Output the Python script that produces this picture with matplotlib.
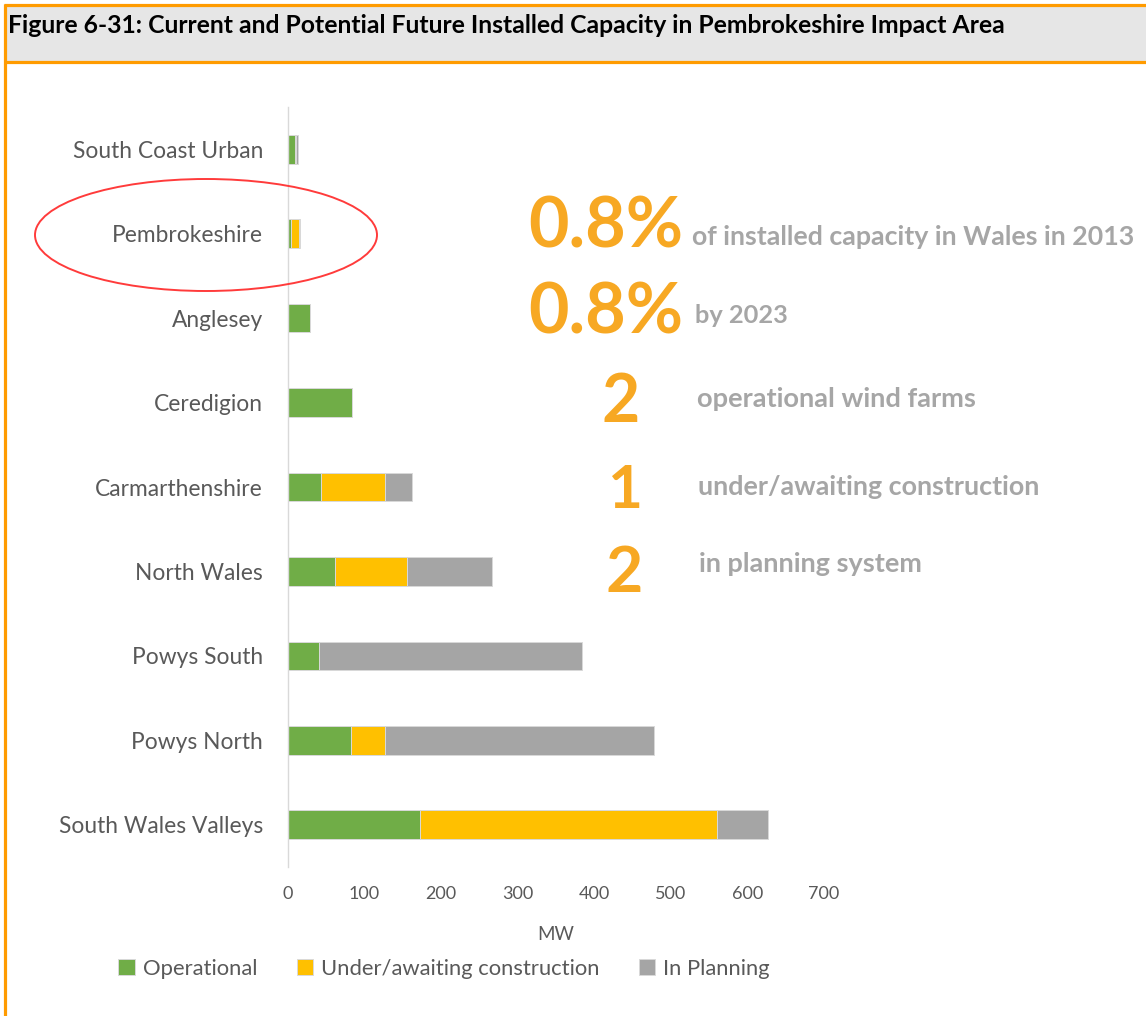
import matplotlib
matplotlib.use("Agg")
import matplotlib.pyplot as plt
from matplotlib.patches import Ellipse, Rectangle
from matplotlib.lines import Line2D

# Installed capacity (MW) by impact area
regions = ["South Coast Urban", "Pembrokeshire", "Anglesey", "Ceredigion",
           "Carmarthenshire", "North Wales", "Powys South", "Powys North",
           "South Wales Valleys"]
operational = [8.5, 4.5, 29, 84, 42.5, 62, 41, 82, 172]
under_construction = [2, 9.5, 0, 0, 84, 93, 0, 45, 388]
in_planning = [3, 1.5, 0, 0, 36, 111, 343, 351, 67]
series_names = ["Operational", "Under/awaiting construction", "In Planning"]
x_ticks = [0, 100, 200, 300, 400, 500, 600, 700]

title = "Figure 6-31: Current and Potential Future Installed Capacity in Pembrokeshire Impact Area"
headline_values = ["0.8%", "0.8%", "2", "1", "2"]
headline_captions = ["of installed capacity in Wales in 2013", "by 2023",
                     "operational wind farms", "under/awaiting construction",
                     "in planning system"]

GREEN, YELLOW, GREY = "#70AD47", "#FFC000", "#A5A5A5"
ORANGE_TEXT, CAPTION_GREY = "#F7A823", "#A6A6A6"
BORDER_ORANGE = "#FF9B00"
LABEL_GREY = "#595959"

plt.rcParams["font.family"] = ["Lato", "DejaVu Sans"]

W, H = 1146, 1016
fig = plt.figure(figsize=(W / 100, H / 100), dpi=100)
renderer = fig.canvas.get_renderer()


def fx(x):
    return x / W


def fy(y):
    return 1 - y / H


def fitted_text(x, y, s, width, **kw):
    t = fig.text(fx(x), fy(y), s, fontsize=20, **kw)
    w = t.get_window_extent(renderer).width
    t.set_fontsize(20 * width / w)
    return t


# Title banner with orange frame
fig.add_artist(Rectangle((fx(5), fy(62)), 1 - fx(5), fy(5) - fy(62),
                         transform=fig.transFigure, facecolor="#E6E6E6",
                         edgecolor="none", zorder=0))
for xs, ys in [((4, W), (5, 5)), ((4, W), (62, 62)), ((5, 5), (4, H))]:
    fig.add_artist(Line2D([fx(v) for v in xs], [fy(v) for v in ys],
                          transform=fig.transFigure, color=BORDER_ORANGE,
                          linewidth=2.3, solid_capstyle="butt"))
fitted_text(8, 33, title, 998, fontweight="bold", color="black", va="baseline")

# Stacked horizontal bars
ax = fig.add_axes([fx(288), fy(867), fx(824) - fx(288), fy(107) - fy(867)])
ypos = list(range(len(regions)))
bar_kw = dict(height=0.34, edgecolor="#D9D9D9", linewidth=0.7)
left2 = [a for a in operational]
left3 = [a + b for a, b in zip(operational, under_construction)]
b1 = ax.barh(ypos, operational, color=GREEN, label=series_names[0], **bar_kw)
b2 = ax.barh(ypos, under_construction, left=left2, color=YELLOW,
             label=series_names[1], **bar_kw)
b3 = ax.barh(ypos, in_planning, left=left3, color=GREY,
             label=series_names[2], **bar_kw)

ax.set_xlim(0, 700)
ax.set_ylim(len(regions) - 0.5, -0.5)
ax.set_xticks(x_ticks)
ax.set_xticklabels([str(v) for v in x_ticks])
ax.set_yticks(ypos)
ax.set_yticklabels(regions)
for side in ["top", "right", "bottom"]:
    ax.spines[side].set_visible(False)
ax.spines["left"].set_color("#D9D9D9")
ax.spines["left"].set_linewidth(1.0)
ax.tick_params(axis="x", length=0, pad=14, labelsize=13, labelcolor=LABEL_GREY)
ax.tick_params(axis="y", length=0, pad=18, labelsize=16.4, labelcolor=LABEL_GREY)
ax.set_xlabel("MW", fontsize=13.5, color=LABEL_GREY, labelpad=17)
ax.set_facecolor("none")

fig.legend(handles=[b1, b2, b3], labels=series_names, loc="center",
           bbox_to_anchor=(fx(444), fy(969)), ncol=3, frameon=False,
           fontsize=15.8, labelcolor=LABEL_GREY, handlelength=0.75,
           handleheight=0.75, handletextpad=0.35, columnspacing=1.8)

# Highlight ring around Pembrokeshire
fig.add_artist(Ellipse((fx(206), fy(235)), fx(342), 112 / H,
                       transform=fig.transFigure, fill=False,
                       edgecolor="#FF3B3B", linewidth=1.4))

# Headline figures
value_pos = [(528, 247, 156), (528, 333, 156), (602, 422, 38), (608, 508, 35),
             (606, 592, 37)]
caption_pos = [(692, 245, 443), (695, 323, 93), (697, 407, 280),
               (698, 495, 342), (699, 572, 223)]
for s, (x, y, w) in zip(headline_values, value_pos):
    fitted_text(x, y, s, w, fontweight="bold", color=ORANGE_TEXT, va="baseline")
for s, (x, y, w) in zip(headline_captions, caption_pos):
    fitted_text(x, y, s, w, fontweight="bold", color=CAPTION_GREY, va="baseline")

fig.savefig("out.png", dpi=100, facecolor="white")
